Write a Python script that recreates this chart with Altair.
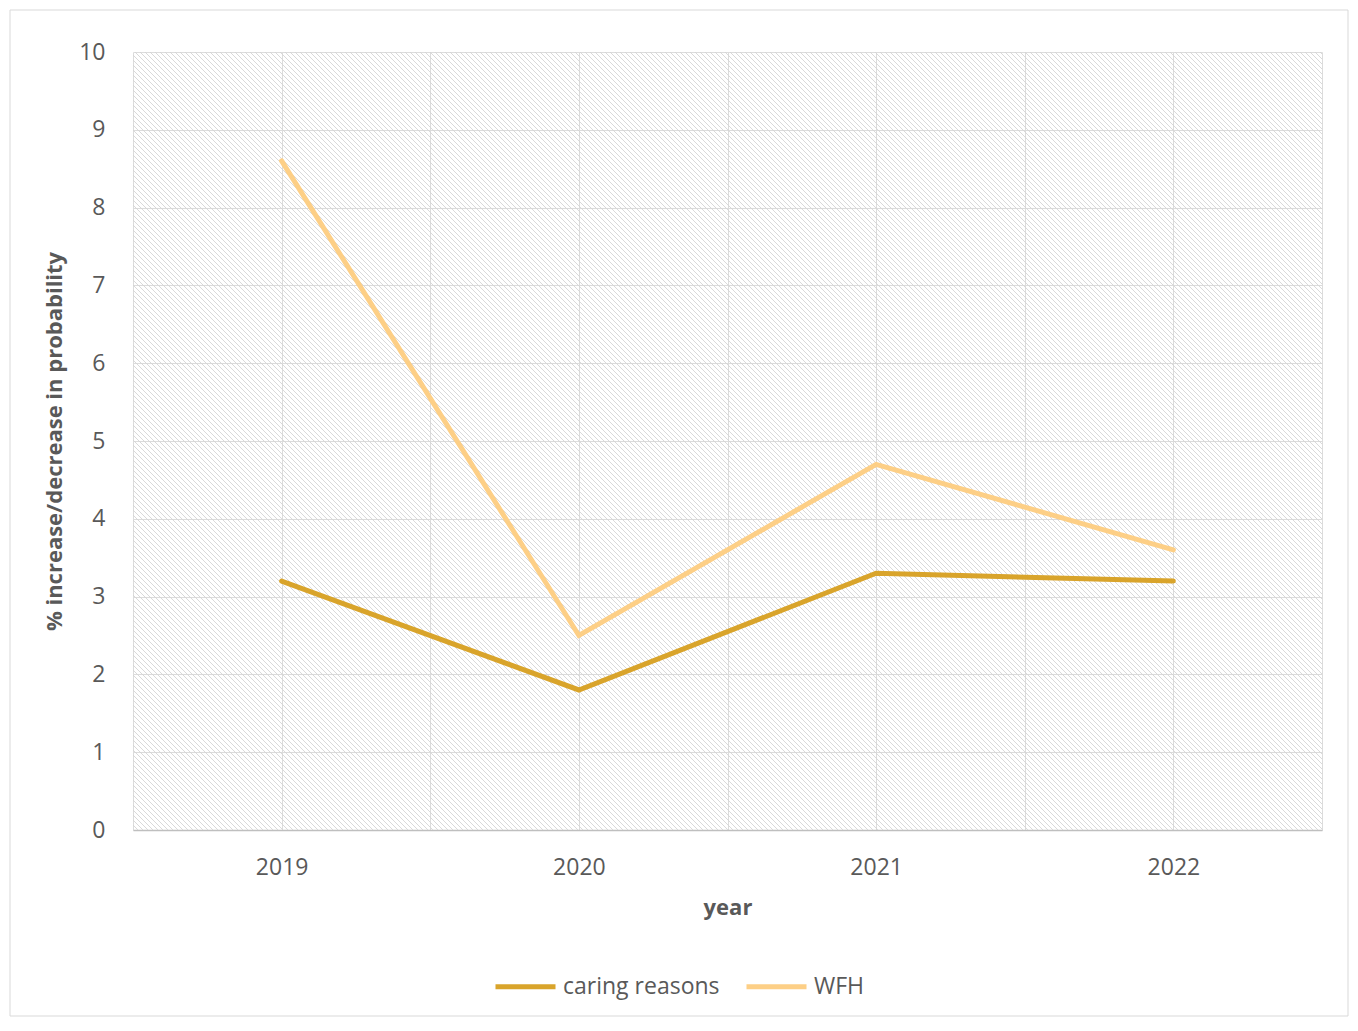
import altair as alt
import pandas as pd

years = [2019, 2020, 2021, 2022]
caring = [3.2, 1.8, 3.3, 3.2]
wfh = [8.6, 2.5, 4.7, 3.6]
series_names = ["caring reasons", "WFH"]
series_colors = ["#D9A42B", "#FDCF86"]

W, H = 1189, 778
FONT = "Open Sans"
TXT = "#595959"

rows = []
for y, c, w in zip(years, caring, wfh):
    rows.append({"year": y, "series": series_names[0], "value": c})
    rows.append({"year": y, "series": series_names[1], "value": w})
df = pd.DataFrame(rows)

grid_vals = [2018.5, 2019, 2019.5, 2020, 2020.5, 2021, 2021.5, 2022, 2022.5]

# decorative hatch pattern of the plot area
hatch = alt.Chart(alt.sequence(0, 400, as_="k")).transform_calculate(
    hx=f"datum.k * 5 - {H}",
    hx2=f"datum.k * 5",
    hy=f"{H}",
    hy2="0",
).mark_rule(clip=True, color="#d2d2d2", strokeWidth=0.85).encode(
    x=alt.X("hx:Q", scale=alt.Scale(domain=[0, W], nice=False, zero=False), axis=None),
    x2="hx2:Q",
    y=alt.Y("hy:Q", scale=alt.Scale(domain=[0, H], nice=False), axis=None),
    y2="hy2:Q",
)

lines = alt.Chart(df).mark_line(strokeWidth=5, strokeCap="round", strokeJoin="miter").encode(
    x=alt.X(
        "year:Q",
        scale=alt.Scale(domain=[2018.5, 2022.5], nice=False, zero=False),
        axis=alt.Axis(
            values=grid_vals,
            labelExpr="datum.value % 1 == 0 ? format(datum.value, 'd') : ''",
            title="year",
            grid=True,
            gridColor="#dcdcdc",
            gridWidth=1,
            ticks=False,
            domain=True,
            domainColor="#bfbfbf",
            domainWidth=1.5,
            labelFont=FONT,
            labelFontSize=23,
            labelColor=TXT,
            labelPadding=26,
            titleFont=FONT,
            titleFontSize=22,
            titleFontWeight="bold",
            titleColor=TXT,
            titlePadding=18,
        ),
    ),
    y=alt.Y(
        "value:Q",
        scale=alt.Scale(domain=[0, 10], nice=False),
        axis=alt.Axis(
            values=list(range(0, 11)),
            title="% increase/decrease in probability",
            grid=True,
            gridColor="#dcdcdc",
            gridWidth=1,
            ticks=False,
            domain=False,
            labelFont=FONT,
            labelFontSize=23,
            labelColor=TXT,
            labelPadding=28,
            titleFont=FONT,
            titleFontSize=22,
            titleFontWeight="bold",
            titleColor=TXT,
            titlePadding=12,
        ),
    ),
    color=alt.Color(
        "series:N",
        scale=alt.Scale(domain=series_names, range=series_colors),
        sort=series_names,
        legend=alt.Legend(
            title=None,
            orient="none",
            direction="horizontal",
            legendX=360,
            legendY=902,
            symbolType="stroke",
            symbolSize=3600,
            symbolStrokeWidth=5,
            labelFont=FONT,
            labelFontSize=23,
            labelColor=TXT,
            labelOffset=5,
            columnPadding=16,
        ),
    ),
)

border = alt.Chart(alt.Data(values=[{"a": 1}])).mark_rect(
    fillOpacity=0, stroke="#d9d9d9", strokeWidth=1
).encode(
    x=alt.value(-123), x2=alt.value(W + 26), y=alt.value(-42), y2=alt.value(H + 186)
)

chart = alt.layer(hatch, lines, border).resolve_scale(
    x="independent", y="independent"
).properties(
    width=W,
    height=H,
    autosize=alt.AutoSizeParams(type="none"),
    padding={"left": 125, "top": 44, "right": 28, "bottom": 190},
    background="white",
).configure_view(stroke=None)

chart.save("out.html", embed_options={"renderer": "svg", "actions": False})
